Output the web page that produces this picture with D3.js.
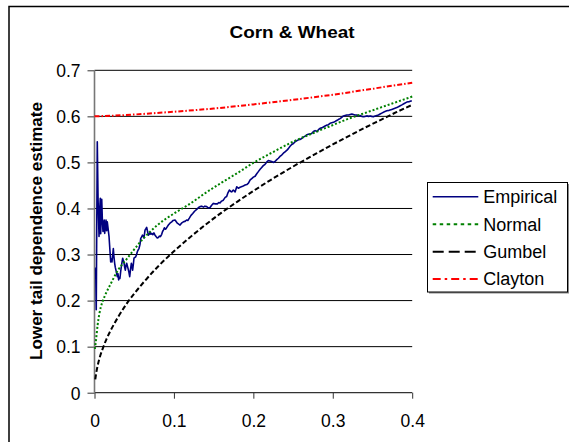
<!DOCTYPE html>
<html>
<head>
<meta charset="utf-8">
<script src="https://cdn.jsdelivr.net/npm/d3@7"></script>
<style>
body { margin: 0; background: #fff; }
svg text { font-family: "Liberation Sans", Arial, sans-serif; fill: #000; }
</style>
</head>
<body>
<div id="chart"></div>
<script>
//chart text
var title = "Corn & Wheat";
var yLabel = "Lower tail dependence estimate";
var seriesNames = ["Empirical", "Normal", "Gumbel", "Clayton"];
var xTicks = [0, 0.1, 0.2, 0.3, 0.4];
var xTickLabels = ["0", "0.1", "0.2", "0.3", "0.4"];
var yTicks = [0, 0.1, 0.2, 0.3, 0.4, 0.5, 0.6, 0.7];
var yTickLabels = ["0", "0.1", "0.2", "0.3", "0.4", "0.5", "0.6", "0.7"];

//Empirical estimate
var empiricalU = [0.0008, 0.0015, 0.0022, 0.0035, 0.0045, 0.0057, 0.0066, 0.0073, 0.0078, 0.0085,
    0.0091, 0.0100, 0.0107, 0.0115, 0.0122, 0.0128, 0.0137, 0.0145, 0.0153, 0.0161,
    0.0172, 0.0183, 0.0194, 0.0204, 0.0212, 0.0220, 0.0230, 0.0237, 0.0245, 0.0254,
    0.0262, 0.0270, 0.0287, 0.0296, 0.0304, 0.0312, 0.0320, 0.0329, 0.0338, 0.0355,
    0.0362, 0.0370, 0.0380, 0.0388, 0.0397, 0.0405, 0.0414, 0.0422, 0.0433, 0.0443,
    0.0455, 0.0464, 0.0472, 0.0480, 0.0490, 0.0497, 0.0518, 0.0530, 0.0539, 0.0550,
    0.0560, 0.0573, 0.0582, 0.0594, 0.0603, 0.0615, 0.0623, 0.0636, 0.0647, 0.0657,
    0.0668, 0.0678, 0.0690, 0.0700, 0.0710, 0.0720, 0.0735, 0.0748, 0.0762, 0.0775,
    0.0790, 0.0804, 0.0818, 0.0830, 0.0846, 0.0857, 0.0867, 0.0880, 0.0890, 0.0900,
    0.0915, 0.0930, 0.0950, 0.0972, 0.0990, 0.1014, 0.1030, 0.1043, 0.1060, 0.1077,
    0.1095, 0.1119, 0.1140, 0.1160, 0.1175, 0.1194, 0.1215, 0.1237, 0.1260, 0.1287,
    0.1310, 0.1329, 0.1350, 0.1371, 0.1390, 0.1413, 0.1435, 0.1455, 0.1475, 0.1497,
    0.1520, 0.1547, 0.1565, 0.1580, 0.1600, 0.1622, 0.1645, 0.1664, 0.1680, 0.1698,
    0.1715, 0.1727, 0.1748, 0.1770, 0.1791, 0.1811, 0.1833, 0.1865, 0.1896, 0.1918,
    0.1938, 0.1960, 0.1980, 0.2000, 0.2022, 0.2045, 0.2063, 0.2085, 0.2105, 0.2125,
    0.2147, 0.2170, 0.2189, 0.2210, 0.2231, 0.2255, 0.2273, 0.2295, 0.2315, 0.2335,
    0.2357, 0.2378, 0.2399, 0.2420, 0.2441, 0.2462, 0.2483, 0.2505, 0.2525, 0.2545,
    0.2567, 0.2590, 0.2609, 0.2630, 0.2651, 0.2672, 0.2693, 0.2715, 0.2735, 0.2757,
    0.2777, 0.2800, 0.2820, 0.2840, 0.2862, 0.2882, 0.2903, 0.2924, 0.2945, 0.2966,
    0.2987, 0.3008, 0.3030, 0.3050, 0.3070, 0.3092, 0.3113, 0.3134, 0.3155, 0.3176,
    0.3200, 0.3218, 0.3240, 0.3260, 0.3280, 0.3302, 0.3320, 0.3344, 0.3365, 0.3386,
    0.3410, 0.3428, 0.3450, 0.3470, 0.3490, 0.3512, 0.3535, 0.3554, 0.3575, 0.3596,
    0.3617, 0.3650, 0.3680, 0.3710, 0.3743, 0.3775, 0.3806, 0.3838, 0.3870, 0.3900,
    0.3932, 0.3965, 0.3995];
var empiricalV = [0.270, 0.270, 0.180, 0.545, 0.420, 0.339, 0.400, 0.422, 0.345, 0.390,
    0.420, 0.370, 0.350, 0.368, 0.375, 0.346, 0.360, 0.375, 0.352, 0.371,
    0.355, 0.339, 0.310, 0.284, 0.290, 0.284, 0.300, 0.313, 0.295, 0.281,
    0.272, 0.266, 0.252, 0.258, 0.245, 0.250, 0.248, 0.262, 0.274, 0.292,
    0.288, 0.284, 0.272, 0.266, 0.276, 0.281, 0.275, 0.270, 0.262, 0.252,
    0.270, 0.281, 0.275, 0.266, 0.280, 0.292, 0.295, 0.300, 0.306, 0.310,
    0.313, 0.322, 0.335, 0.338, 0.342, 0.340, 0.336, 0.353, 0.356, 0.359,
    0.350, 0.342, 0.344, 0.348, 0.344, 0.346, 0.343, 0.347, 0.342, 0.339,
    0.336, 0.337, 0.340, 0.339, 0.344, 0.350, 0.353, 0.358, 0.355, 0.356,
    0.360, 0.364, 0.368, 0.371, 0.374, 0.375, 0.371, 0.368, 0.366, 0.364,
    0.368, 0.371, 0.372, 0.375, 0.374, 0.379, 0.385, 0.389, 0.394, 0.398,
    0.402, 0.404, 0.405, 0.403, 0.405, 0.404, 0.401, 0.402, 0.407, 0.411,
    0.410, 0.410, 0.413, 0.412, 0.416, 0.418, 0.424, 0.426, 0.434, 0.440,
    0.437, 0.436, 0.440, 0.436, 0.447, 0.444, 0.446, 0.448, 0.451, 0.452,
    0.455, 0.462, 0.465, 0.468, 0.470, 0.476, 0.480, 0.485, 0.489, 0.493,
    0.496, 0.501, 0.504, 0.503, 0.502, 0.500, 0.502, 0.506, 0.509, 0.513,
    0.516, 0.520, 0.523, 0.526, 0.530, 0.535, 0.539, 0.541, 0.545, 0.547,
    0.549, 0.550, 0.552, 0.555, 0.557, 0.560, 0.561, 0.562, 0.563, 0.567,
    0.569, 0.567, 0.571, 0.574, 0.575, 0.577, 0.579, 0.581, 0.582, 0.585,
    0.586, 0.587, 0.589, 0.591, 0.593, 0.595, 0.598, 0.601, 0.602, 0.603,
    0.603, 0.604, 0.605, 0.604, 0.603, 0.603, 0.601, 0.602, 0.600, 0.599,
    0.600, 0.601, 0.600, 0.601, 0.600, 0.599, 0.601, 0.602, 0.603, 0.605,
    0.607, 0.610, 0.612, 0.613, 0.615, 0.617, 0.619, 0.622, 0.625, 0.628,
    0.631, 0.632, 0.634];

//Normal copula curve
var normalU = [0.0005, 0.002, 0.004, 0.006, 0.008, 0.01, 0.015, 0.02, 0.025, 0.03, 0.04, 0.05,
    0.06, 0.08, 0.1, 0.12, 0.14, 0.16, 0.18, 0.2, 0.22, 0.25, 0.28, 0.3, 0.32, 0.34, 0.36, 0.38, 0.4];
var normalV = [0.095, 0.116, 0.148, 0.170, 0.186, 0.197, 0.218, 0.235, 0.252, 0.267, 0.289, 0.311,
    0.332, 0.365, 0.389, 0.410, 0.434, 0.456, 0.477, 0.499, 0.518, 0.545, 0.567, 0.581, 0.595, 0.607, 0.619, 0.631, 0.643];

//Gumbel copula curve
var gumbelU = [0.001, 0.002, 0.004, 0.007, 0.01, 0.015, 0.02, 0.03, 0.04, 0.05, 0.06, 0.08, 0.1,
    0.12, 0.14, 0.16, 0.18, 0.2, 0.22, 0.25, 0.28, 0.3, 0.32, 0.34, 0.36, 0.38, 0.4];
var gumbelV = [0.029, 0.041, 0.059, 0.079, 0.094, 0.116, 0.134, 0.165, 0.192, 0.215, 0.236, 0.274, 0.307,
    0.337, 0.365, 0.391, 0.415, 0.438, 0.460, 0.491, 0.520, 0.539, 0.557, 0.575, 0.592, 0.609, 0.625];

//Clayton copula curve
var claytonU = [0, 0.025, 0.05, 0.1, 0.15, 0.2, 0.25, 0.3, 0.35, 0.4];
var claytonV = [0.600, 0.6015, 0.604, 0.610, 0.617, 0.626, 0.636, 0.647, 0.660, 0.673];

//pairs up x and y arrays for d3.line
function zipSeries(us, vs){
    var out = [];
    for (var i = 0; i < us.length; i++){
        out.push([us[i], vs[i]]);
    }
    return out;
}

var seriesData = [
    zipSeries(empiricalU, empiricalV),
    zipSeries(normalU, normalV),
    zipSeries(gumbelU, gumbelV),
    zipSeries(claytonU, claytonV)
];

//line look for each series: plot dash and legend dash
var lineStyles = [
    {color: "#000080", width: 1.6, dash: null, legendDash: null, curve: d3.curveLinear},
    {color: "#008000", width: 2, dash: "2,2", legendDash: "3.5,3.5", curve: d3.curveMonotoneX},
    {color: "#000000", width: 2, dash: "5,2.5", legendDash: "11,5", curve: d3.curveMonotoneX},
    {color: "#ff0000", width: 2, dash: "5,2,1.5,2", legendDash: "8,4,2.5,4", curve: d3.curveMonotoneX}
];

makeChart();

function makeChart(){
    var width = 569, height = 442;
    var svg = d3.select("#chart").append("svg").attr("width", width).attr("height", height);

    //outer chart frame (runs off the right and bottom)
    svg.append("rect")
        .attr("x", 9).attr("y", 6.5)
        .attr("width", 700).attr("height", 600)
        .attr("fill", "#fff")
        .attr("stroke", "#000")
        .attr("stroke-width", 1.5);

    //scales
    var x = d3.scaleLinear().domain([0, 0.4]).range([94.5, 412.2]),
        y = d3.scaleLinear().domain([0, 0.7]).range([392.7, 70.3]);

    //horizontal gridlines
    svg.append("g").selectAll("line")
        .data(yTicks.slice(1))
        .enter().append("line")
        .attr("x1", x(0)).attr("x2", x(0.4))
        .attr("y1", function(d){ return y(d); })
        .attr("y2", function(d){ return y(d); })
        .attr("stroke", "#000")
        .attr("stroke-width", 1);

    //y axis
    var yA = d3.axisLeft(y).tickValues(yTicks).tickSize(7).tickPadding(7)
        .tickFormat(function(d, i){ return yTickLabels[i]; });
    var gy = svg.append("g")
        .attr("transform", "translate(" + x(0) + ",0)")
        .call(yA);
    gy.select(".domain").remove();
    gy.selectAll("line").attr("stroke", "#333");
    gy.selectAll("text")
        .style("font-size", "17.5px")
        .attr("dy", "0.36em");

    //x axis
    var xA = d3.axisBottom(x).tickValues(xTicks).tickSize(6)
        .tickFormat(function(d, i){ return xTickLabels[i]; });
    var gx = svg.append("g")
        .attr("transform", "translate(0," + y(0) + ")")
        .call(xA);
    gx.select(".domain").remove();
    gx.selectAll("line").attr("stroke", "#333");
    gx.selectAll("text")
        .style("font-size", "17.5px")
        .attr("y", 34.6)
        .attr("dy", "0");

    //axis lines
    svg.append("line")
        .attr("x1", x(0)).attr("x2", x(0.4))
        .attr("y1", y(0)).attr("y2", y(0))
        .attr("stroke", "#333").attr("stroke-width", 1.2);
    svg.append("line")
        .attr("x1", x(0)).attr("x2", x(0))
        .attr("y1", y(0)).attr("y2", y(0.7))
        .attr("stroke", "#777").attr("stroke-width", 1.6);

    //series lines
    var plot = svg.append("g");
    seriesData.forEach(function(pts, i){
        var st = lineStyles[i];
        var line = d3.line()
            .x(function(d){ return x(d[0]); })
            .y(function(d){ return y(d[1]); })
            .curve(st.curve);
        plot.append("path")
            .datum(pts)
            .attr("d", line)
            .attr("fill", "none")
            .attr("stroke", st.color)
            .attr("stroke-width", st.width)
            .attr("stroke-dasharray", st.dash)
            .attr("stroke-linejoin", "round");
    });

    //title
    svg.append("text")
        .attr("x", 292).attr("y", 38.3)
        .style("text-anchor", "middle")
        .style("font-size", "16px")
        .style("font-weight", "bold")
        .attr("textLength", 125)
        .attr("lengthAdjust", "spacingAndGlyphs")
        .text(title);

    //y label
    svg.append("text")
        .attr("transform", "translate(41.5,231) rotate(-90)")
        .style("text-anchor", "middle")
        .style("font-size", "16px")
        .style("font-weight", "bold")
        .attr("textLength", 258)
        .attr("lengthAdjust", "spacingAndGlyphs")
        .text(yLabel);

    //legend
    var lx = 427.5, ly = 182.5, lw = 140, lh = 109.5;
    svg.append("rect")
        .attr("x", lx + 1.5).attr("y", ly + 1.5)
        .attr("width", lw).attr("height", lh)
        .attr("fill", "#888");
    svg.append("rect")
        .attr("x", lx).attr("y", ly)
        .attr("width", lw).attr("height", lh)
        .attr("fill", "#fff")
        .attr("stroke", "#000")
        .attr("stroke-width", 1);
    var rows = [196.7, 224.3, 251.7, 279];
    seriesNames.forEach(function(name, i){
        var st = lineStyles[i];
        svg.append("line")
            .attr("x1", 432.7).attr("x2", 478.3)
            .attr("y1", rows[i]).attr("y2", rows[i])
            .attr("stroke", st.color)
            .attr("stroke-width", st.width)
            .attr("stroke-dasharray", st.legendDash);
        svg.append("text")
            .attr("x", 483.3).attr("y", rows[i])
            .attr("dy", "0.36em")
            .style("font-size", "18px")
            .text(name);
    });
}
</script>
</body>
</html>
